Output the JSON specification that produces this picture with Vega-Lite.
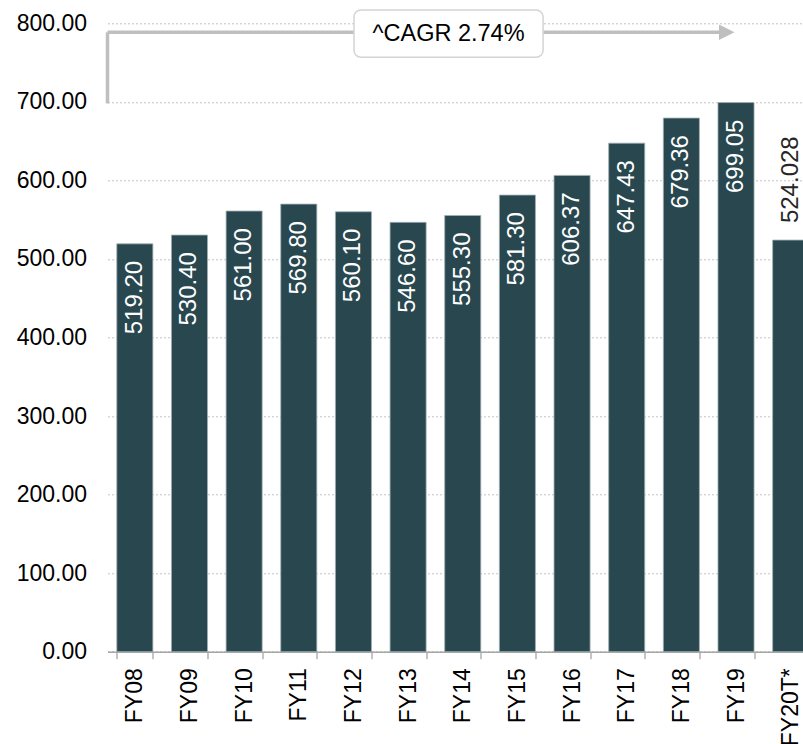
{
  "$schema": "https://vega.github.io/schema/vega-lite/v6.json",
  "width": 695.5,
  "height": 628.4,
  "autosize": {"type": "none"},
  "padding": {"left": 107.5, "top": 23.3, "right": 0, "bottom": 92.3},
  "background": "white",
  "config": {
    "font": "Liberation Sans",
    "view": {"stroke": null}
  },
  "datasets": {
    "bars": [
      {"year": "FY08", "value": 519.20, "label": "519.20", "type": "actual"},
      {"year": "FY09", "value": 530.40, "label": "530.40", "type": "actual"},
      {"year": "FY10", "value": 561.00, "label": "561.00", "type": "actual"},
      {"year": "FY11", "value": 569.80, "label": "569.80", "type": "actual"},
      {"year": "FY12", "value": 560.10, "label": "560.10", "type": "actual"},
      {"year": "FY13", "value": 546.60, "label": "546.60", "type": "actual"},
      {"year": "FY14", "value": 555.30, "label": "555.30", "type": "actual"},
      {"year": "FY15", "value": 581.30, "label": "581.30", "type": "actual"},
      {"year": "FY16", "value": 606.37, "label": "606.37", "type": "actual"},
      {"year": "FY17", "value": 647.43, "label": "647.43", "type": "actual"},
      {"year": "FY18", "value": 679.36, "label": "679.36", "type": "actual"},
      {"year": "FY19", "value": 699.05, "label": "699.05", "type": "actual"},
      {"year": "FY20T*", "value": 524.028, "label": "524.028", "type": "target"}
    ],
    "cagr_line": [
      {"part": "vertical", "x": 0, "x2": 0, "y": 698, "y2": 788.5},
      {"part": "horizontal", "x": 0, "x2": 11.2, "y": 788.5, "y2": 788.5}
    ],
    "cagr_head": [
      {"x": 11.33, "y": 788.5}
    ],
    "cagr_box": [
      {"x": 4.51, "x2": 7.97, "y": 816.9, "y2": 756.7, "text": "^CAGR 2.74%", "xc": 6.24, "yc": 786.5}
    ]
  },
  "layer": [
    {
      "data": {"name": "bars"},
      "layer": [
        {
          "mark": {"type": "bar", "color": "#29474f", "stroke": "#9fb0b4", "strokeWidth": 0.8},
          "encoding": {
            "x": {
              "field": "year", "type": "nominal", "sort": "ascending",
              "scale": {"range": [0, 710.5], "paddingInner": 0.34, "paddingOuter": 0.17},
              "axis": {
                "title": null, "labelAngle": 270, "labelFontSize": 23, "labelColor": "#000000",
                "labelFont": "Liberation Sans", "labelPadding": 9, "tickBand": "extent",
                "tickSize": 7, "tickColor": "#a6a6a6", "tickWidth": 1.3,
                "domainColor": "#a6a6a6", "domainWidth": 1.5, "grid": false
              }
            },
            "y": {
              "field": "value", "type": "quantitative",
              "scale": {"domain": [0, 800], "nice": false},
              "axis": {
                "title": null, "format": ".2f", "values": [0, 100, 200, 300, 400, 500, 600, 700, 800],
                "labelFontSize": 23, "labelColor": "#000000", "labelFont": "Liberation Sans",
                "labelPadding": 21, "ticks": false, "domain": false,
                "grid": true, "gridColor": "#c4c4c4", "gridDash": [2, 2], "gridWidth": 1
              }
            }
          }
        },
        {
          "transform": [{"filter": "datum.type === 'actual'"}],
          "mark": {"type": "text", "angle": 270, "align": "right", "baseline": "middle", "dx": -17, "fontSize": 24, "color": "#ffffff", "font": "Liberation Sans"},
          "encoding": {
            "x": {"field": "year", "type": "nominal", "sort": "ascending"},
            "y": {"field": "value", "type": "quantitative", "scale": {"domain": [0, 800], "nice": false}},
            "text": {"field": "label"}
          }
        },
        {
          "transform": [{"filter": "datum.type === 'target'"}],
          "mark": {"type": "text", "angle": 270, "align": "left", "baseline": "middle", "dx": 17, "fontSize": 24, "color": "#262626", "font": "Liberation Sans"},
          "encoding": {
            "x": {"field": "year", "type": "nominal", "sort": "ascending"},
            "y": {"field": "value", "type": "quantitative", "scale": {"domain": [0, 800], "nice": false}},
            "text": {"field": "label"}
          }
        }
      ]
    },
    {
      "layer": [
        {
          "data": {"name": "cagr_line"},
          "mark": {"type": "rule", "color": "#bfbfbf", "strokeWidth": 3.5, "strokeCap": "butt"},
          "encoding": {
            "x": {"field": "x", "type": "quantitative", "scale": {"domain": [0, 13], "range": [0, 710.5], "nice": false, "zero": false}, "axis": null},
            "x2": {"field": "x2"},
            "y": {"field": "y", "type": "quantitative", "scale": {"domain": [0, 800], "nice": false}},
            "y2": {"field": "y2"}
          }
        },
        {
          "data": {"name": "cagr_head"},
          "mark": {"type": "point", "shape": "M-1,-1L1,0L-1,1Z", "filled": true, "color": "#bfbfbf", "size": 240, "opacity": 1},
          "encoding": {
            "x": {"field": "x", "type": "quantitative", "scale": {"domain": [0, 13], "range": [0, 710.5], "nice": false, "zero": false}, "axis": null},
            "y": {"field": "y", "type": "quantitative", "scale": {"domain": [0, 800], "nice": false}}
          }
        },
        {
          "data": {"name": "cagr_box"},
          "mark": {"type": "rect", "fill": "#ffffff", "stroke": "#d4d4d4", "strokeWidth": 1.5, "cornerRadius": 7},
          "encoding": {
            "x": {"field": "x", "type": "quantitative", "scale": {"domain": [0, 13], "range": [0, 710.5], "nice": false, "zero": false}, "axis": null},
            "x2": {"field": "x2"},
            "y": {"field": "y", "type": "quantitative", "scale": {"domain": [0, 800], "nice": false}},
            "y2": {"field": "y2"}
          }
        },
        {
          "data": {"name": "cagr_box"},
          "mark": {"type": "text", "align": "center", "baseline": "middle", "fontSize": 23.5, "color": "#000000", "font": "Liberation Sans"},
          "encoding": {
            "x": {"field": "xc", "type": "quantitative", "scale": {"domain": [0, 13], "range": [0, 710.5], "nice": false, "zero": false}, "axis": null},
            "y": {"field": "yc", "type": "quantitative", "scale": {"domain": [0, 800], "nice": false}},
            "text": {"field": "text"}
          }
        }
      ]
    }
  ],
  "resolve": {"scale": {"x": "independent"}}
}
